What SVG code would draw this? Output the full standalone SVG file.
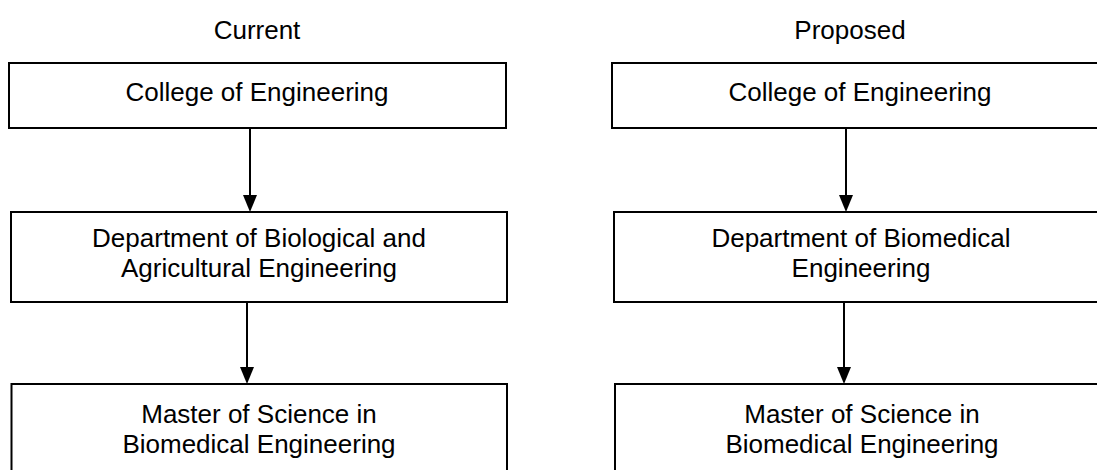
<svg xmlns="http://www.w3.org/2000/svg" width="1097" height="470" viewBox="0 0 1097 470">
<defs>
<style>
.box{fill:#fff;stroke:#000;stroke-width:2}
.t{font-family:"Liberation Sans",Arial,sans-serif;font-size:26px;fill:#000;text-anchor:middle}
.c{stroke:#000;stroke-width:2;fill:none}
</style>
<marker id="ah" markerUnits="userSpaceOnUse" markerWidth="16" markerHeight="18" refX="7" refY="17" orient="auto-start-reverse" viewBox="0 0 14 18">
<path d="M0,0 L14,0 L7,17 Z" fill="#000" transform="rotate(0)"/>
</marker>
</defs>
<rect width="1097" height="470" fill="#fff"/>
<text class="t" x="257" y="39">Current</text>
<text class="t" x="850" y="39">Proposed</text>
<g id="cur-college"><rect class="box" x="9" y="63" width="497" height="65"/><text class="t" x="257" y="101">College of Engineering</text></g>
<g id="cur-dept"><rect class="box" x="11" y="212" width="496" height="90"/><text class="t" x="259" y="247">Department of Biological and</text><text class="t" x="259" y="277">Agricultural Engineering</text></g>
<g id="cur-ms"><rect class="box" x="11.5" y="384" width="495.5" height="100"/><text class="t" x="259" y="423">Master of Science in</text><text class="t" x="259" y="453">Biomedical Engineering</text></g>
<g id="prop-college"><rect class="box" x="612" y="63" width="500" height="65"/><text class="t" x="860" y="101">College of Engineering</text></g>
<g id="prop-dept"><rect class="box" x="614" y="212" width="500" height="90"/><text class="t" x="861" y="247">Department of Biomedical</text><text class="t" x="861" y="277">Engineering</text></g>
<g id="prop-ms"><rect class="box" x="615" y="384" width="500" height="100"/><text class="t" x="862" y="423">Master of Science in</text><text class="t" x="862" y="453">Biomedical Engineering</text></g>
<g id="connectors">
<path class="c" d="M250,128 L250,200"/><path d="M243,195 L257,195 L250,212 Z" fill="#000"/>
<path class="c" d="M247,302 L247,372"/><path d="M240,367 L254,367 L247,384 Z" fill="#000"/>
<path class="c" d="M846,128 L846,200"/><path d="M839,195 L853,195 L846,212 Z" fill="#000"/>
<path class="c" d="M844,302 L844,372"/><path d="M837,367 L851,367 L844,384 Z" fill="#000"/>
</g>
</svg>
